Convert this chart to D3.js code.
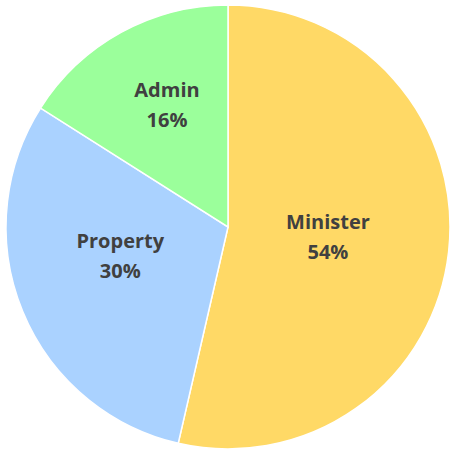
<!DOCTYPE html>
<html lang="en">
<head>
    <meta charset="UTF-8">
    <title>Pie</title>
    <style>
    body { margin: 0; background: white; }
    .lbl {
        fill: #404040;
        font-family: "Open Sans", sans-serif;
        font-weight: bold;
        font-size: 20px;
        text-anchor: middle;
    }
    </style>
</head>
<body>
<script src="https://cdn.jsdelivr.net/npm/d3@7"></script>
<script>
let categories = ['Minister', 'Property', 'Admin'];
let values = [53.6, 30.4, 16.0];
let colors = ['#FFD966', '#AAD2FF', '#9BFF9B'];

let width = 450, height = 451;
let cx = 228, cy = 227, radius = 222;
// label placement: fraction of radius along mid angle, then a small nudge
let labelFrac = [0.453, 0.505, 0.608];
let labelNudge = [[0, 0], [-4, -13], [4, -3]];

let svg = d3.select('body').append('svg')
    .attr('width', width)
    .attr('height', height);

let pie = d3.pie().sort(null);
let piedata = pie(values);
let total = d3.sum(values);

let arc = d3.arc().innerRadius(0).outerRadius(radius);

let g = svg.append('g').attr('transform', `translate(${cx}, ${cy})`);

g.selectAll('path')
    .data(piedata)
    .enter()
    .append('path')
    .attr('fill', (d, i) => colors[i])
    .attr('stroke', 'white')
    .attr('stroke-width', 1.5)
    .attr('d', arc);

let labels = g.selectAll('.lbl')
    .data(piedata)
    .enter()
    .append('text')
    .attr('class', 'lbl')
    .attr('transform', (d, i) => {
        let a = (d.startAngle + d.endAngle) / 2;
        let r = radius * labelFrac[i];
        let x = Math.sin(a) * r + labelNudge[i][0];
        let y = -Math.cos(a) * r + labelNudge[i][1];
        return `translate(${x}, ${y})`;
    });

labels.append('tspan')
    .attr('x', 0)
    .attr('dy', '-0.45em')
    .text((d, i) => categories[i]);

labels.append('tspan')
    .attr('x', 0)
    .attr('dy', '1.5em')
    .text((d) => Math.round(d.value / total * 100) + '%');
</script>
</body>
</html>
